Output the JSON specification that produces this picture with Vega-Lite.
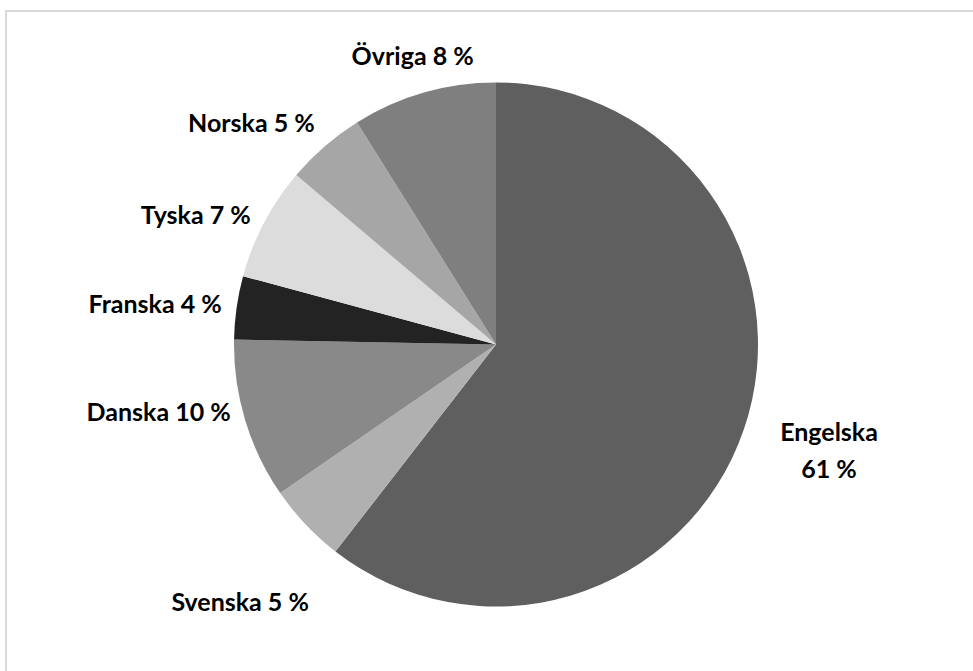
{
  "$schema": "https://vega.github.io/schema/vega-lite/v6.json",
  "width": 971,
  "height": 664,
  "autosize": {"type": "none"},
  "padding": {"left": 6, "top": 11, "right": -4, "bottom": -4},
  "background": "white",
  "view": {"stroke": "#d9d9d9", "strokeWidth": 2, "fill": "white"},
  "data": {"values": [
    {"i": 1, "sprak": "Engelska", "andel": 60.5, "etikett": "Engelska\n61 %"},
    {"i": 2, "sprak": "Svenska", "andel": 4.9, "etikett": "Svenska 5 %"},
    {"i": 3, "sprak": "Danska", "andel": 9.9, "etikett": "Danska 10 %"},
    {"i": 4, "sprak": "Franska", "andel": 3.9, "etikett": "Franska 4 %"},
    {"i": 5, "sprak": "Tyska", "andel": 7.0, "etikett": "Tyska 7 %"},
    {"i": 6, "sprak": "Norska", "andel": 4.9, "etikett": "Norska 5 %"},
    {"i": 7, "sprak": "Övriga", "andel": 8.9, "etikett": "Övriga 8 %"}
  ]},
  "encoding": {
    "theta": {"field": "andel", "type": "quantitative", "stack": true},
    "order": {"field": "i", "type": "quantitative"}
  },
  "layer": [
    {
      "mark": {"type": "arc", "outerRadius": 262, "xOffset": 4.5, "yOffset": 1.5},
      "encoding": {
        "color": {
          "field": "sprak", "type": "nominal", "legend": null,
          "scale": {
            "domain": ["Engelska", "Svenska", "Danska", "Franska", "Tyska", "Norska", "Övriga"],
            "range": ["#5f5f5f", "#b0b0b0", "#898989", "#232323", "#dcdcdc", "#a6a6a6", "#7f7f7f"]
          }
        }
      }
    },
    {
      "mark": {"type": "text", "radius": 277, "align": "right", "baseline": "middle", "font": "Lato", "fontWeight": "bold", "fontSize": 25, "color": "#000000", "xOffset": 4.5, "yOffset": 1.5},
      "encoding": {"text": {"condition": {"test": "datum.sprak == 'Franska' || datum.sprak == 'Tyska'", "field": "etikett"}, "value": ""}}
    },
    {
      "mark": {"type": "text", "radius": 277, "align": "right", "baseline": "middle", "dy": -11, "font": "Lato", "fontWeight": "bold", "fontSize": 25, "color": "#000000", "xOffset": 4.5, "yOffset": 1.5},
      "encoding": {"text": {"condition": {"test": "datum.sprak == 'Norska' || datum.sprak == 'Danska'", "field": "etikett"}, "value": ""}}
    },
    {
      "mark": {"type": "text", "radius": 302, "align": "center", "baseline": "middle", "dy": 3, "font": "Lato", "fontWeight": "bold", "fontSize": 25, "color": "#000000", "xOffset": 4.5, "yOffset": 1.5},
      "encoding": {"text": {"condition": {"test": "datum.sprak == 'Övriga'", "field": "etikett"}, "value": ""}}
    },
    {
      "mark": {"type": "text", "radius": 352, "align": "center", "baseline": "middle", "dy": 17, "font": "Lato", "fontWeight": "bold", "fontSize": 25, "color": "#000000", "xOffset": 4.5, "yOffset": 1.5},
      "encoding": {"text": {"condition": {"test": "datum.sprak == 'Svenska'", "field": "etikett"}, "value": ""}}
    },
    {
      "mark": {"type": "text", "radius": 352, "align": "center", "baseline": "middle", "dy": -26, "lineBreak": "\n", "lineHeight": 37, "font": "Lato", "fontWeight": "bold", "fontSize": 25, "color": "#000000", "xOffset": 4.5, "yOffset": 1.5},
      "encoding": {"text": {"condition": {"test": "datum.sprak == 'Engelska'", "field": "etikett"}, "value": ""}}
    }
  ]
}
